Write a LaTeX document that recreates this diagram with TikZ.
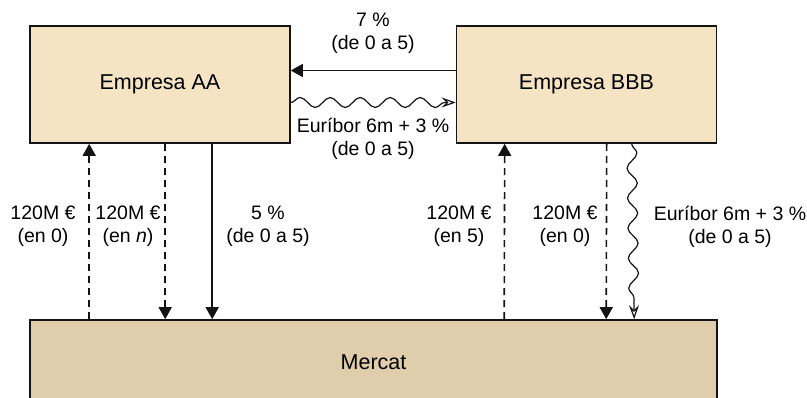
\documentclass[tikz,border=0pt]{standalone}
\usepackage{fontspec}
\setmainfont{Liberation Sans}
\usetikzlibrary{arrows.meta,calc,decorations.pathmorphing}
\definecolor{firmfill}{RGB}{245,228,196}
\definecolor{marketfill}{RGB}{224,205,172}
\definecolor{ink}{RGB}{20,20,20}
\tikzset{
  boxfont/.style={font=\fontsize{21.5}{25}\selectfont},
  firm/.style={draw=ink,line width=1.6pt,fill=firmfill,minimum width=260pt,minimum height=117pt,inner sep=0pt,boxfont},
  market/.style={draw=ink,line width=1.6pt,fill=marketfill,minimum width=687pt,minimum height=85pt,inner sep=0pt,boxfont},
  lbl/.style={align=center,inner sep=0pt,font=\fontsize{19.5}{23}\selectfont},
  flow/.style={draw=ink,line width=1.6pt,-{Triangle[width=13pt,length=12pt]}},
  cashflow/.style={flow,dash pattern=on 7pt off 5pt},
  floatflow/.style={draw=ink,line width=1.2pt,-{Stealth[open,width=10pt,length=14pt,inset=5pt,line width=1.2pt]},
    decorate,decoration={snake,amplitude=5pt,segment length=30pt,post length=10pt}}
}
\begin{document}
\begin{tikzpicture}[x=1pt,y=-1pt]
\useasboundingbox (0,0) rectangle (807,398);
\clip (0,0) rectangle (807,398);

% parties
\node[firm]   (aa)     at (160,84.5)   {Empresa AA};
\node[firm]   (bbb)    at (586.5,84.5) {Empresa BBB};
\node[market] (mercat) at (373.5,362.5) {Mercat};

% swap between the two firms
\draw[flow] ($(bbb.west)+(0,-14)$) -- ($(aa.east)+(0,-14)$);
\draw[floatflow] ($(aa.east)+(0,18)$) -- ($(bbb.west)+(0,18)$);
\node[lbl] (fix)   at (373,33)    {7 \%\\(de 0 a 5)};
\node[lbl] (euri1) at (373,138.5) {Euríbor 6m + 3 \%\\(de 0 a 5)};

% Empresa AA and the market
\draw[cashflow] ($(mercat.north west)+(60,0)$) -- ($(aa.south west)+(60,0)$);
\draw[cashflow] ($(aa.south west)+(136,0)$) -- ($(mercat.north west)+(136,0)$);
\draw[flow] ($(aa.south west)+(183,0)$) -- ($(mercat.north west)+(183,0)$);
\node[lbl] (aain)  at (43,226.5)  {120M €\\(en 0)};
\node[lbl] (aaout) at (128,226.5) {120M €\\(en \textit{n})};
\node[lbl] (aacp)  at (268,226.5) {5 \%\\(de 0 a 5)};

% Empresa BBB and the market
\draw[cashflow] ($(mercat.north west)+(475,0)$) -- ($(bbb.south west)+(49,0)$);
\draw[cashflow] ($(bbb.south west)+(151,0)$) -- ($(mercat.north west)+(577,0)$);
\draw[floatflow] ($(bbb.south west)+(176,0)$) -- ($(mercat.north west)+(605,0)$);
\node[lbl] (bbbin)  at (459,226.5) {120M €\\(en 5)};
\node[lbl] (bbbout) at (565,226.5) {120M €\\(en 0)};
\node[lbl] (euri2)  at (730,226.5) {Euríbor 6m + 3 \%\\(de 0 a 5)};
\end{tikzpicture}
\end{document}
